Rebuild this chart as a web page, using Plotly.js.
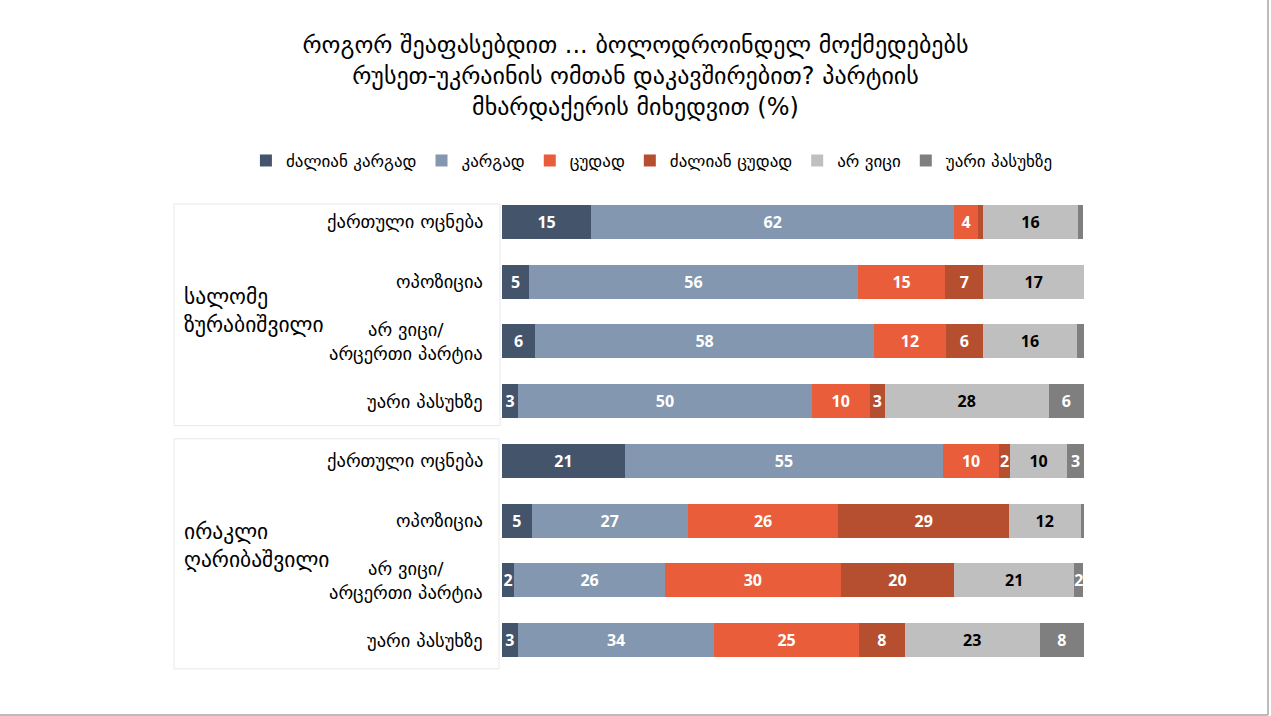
<!DOCTYPE html>
<html>
<head>
<meta charset="utf-8">
<script src="https://cdn.plot.ly/plotly-3.0.1.min.js"></script>
<style>html,body{margin:0;padding:0;background:#fff;}#chart{width:1271px;height:716px;}</style>
</head>
<body>
<div id="chart"></div>
<script>
// Row labels (top to bottom)
const rowLabels = [
  "ქართული ოცნება",
  "ოპოზიცია",
  "არ ვიცი/<br>არცერთი პარტია",
  "უარი პასუხზე",
  "ქართული ოცნება",
  "ოპოზიცია",
  "არ ვიცი/<br>არცერთი პარტია",
  "უარი პასუხზე"
];
const groupLabels = ["სალომე<br>ზურაბიშვილი", "ირაკლი<br>ღარიბაშვილი"];
const seriesNames = ["ძალიან კარგად", "კარგად", "ცუდად", "ძალიან ცუდად", "არ ვიცი", "უარი პასუხზე"];

// Series values (%), one entry per row
const veryGood = [15.3, 4.7, 5.7, 2.8, 21.1, 5.1, 2.1, 2.7];
const good     = [62.4, 56.4, 58.2, 50.4, 54.7, 26.8, 25.9, 33.8];
const bad      = [4.1, 15.1, 12.4, 10.0, 9.6, 25.9, 30.2, 24.8];
const veryBad  = [0.8, 6.5, 6.3, 2.6, 1.9, 29.3, 19.5, 7.9];
const dontKnow = [16.4, 17.3, 16.2, 28.1, 9.8, 12.3, 20.6, 23.2];
const refused  = [0.9, 0.0, 1.2, 6.1, 2.9, 0.6, 1.6, 7.6];

const seriesValues = [veryGood, good, bad, veryBad, dontKnow, refused];
const colors = ["#44546A", "#8497B0", "#E95D3A", "#B54F30", "#BFBFBF", "#7F7F7F"];
const textColors = ["#FFFFFF", "#FFFFFF", "#FFFFFF", "#FFFFFF", "#000000", "#FFFFFF"];

const rows = rowLabels.map((_, i) => i);
const GEO = "DejaVu Sans, sans-serif";

const traces = seriesValues.map((vals, k) => ({
  type: "bar",
  orientation: "h",
  name: seriesNames[k],
  x: vals,
  y: rows,
  marker: {color: colors[k], line: {width: 0}},
  text: vals.map(v => v >= 1.5 ? String(Math.round(v)) : ""),
  textposition: "inside",
  insidetextanchor: "middle",
  textangle: 0,
  constraintext: "none",
  textfont: {family: "Open Sans, sans-serif", size: 16, weight: "bold", color: textColors[k]},
  hoverinfo: "name+x"
}));

// Row label annotations (centered multiline, right anchored)
const annotations = rowLabels.map((t, i) => ({
  xref: "paper", yref: "y",
  x: -0.029, y: i,
  xanchor: "right", yanchor: "middle",
  align: "center",
  text: t,
  showarrow: false,
  font: {family: GEO, size: 18.5, color: "#000"}
}));
annotations.push({
  xref: "paper", yref: "y", x: -0.549, y: 1.48,
  xanchor: "left", yanchor: "middle", align: "left",
  text: groupLabels[0], showarrow: false,
  font: {family: GEO, size: 21.5, color: "#000"}
});
annotations.push({
  xref: "paper", yref: "y", x: -0.549, y: 5.41,
  xanchor: "left", yanchor: "middle", align: "left",
  text: groupLabels[1], showarrow: false,
  font: {family: GEO, size: 21.5, color: "#000"}
});

const shapes = [
  {type: "rect", xref: "paper", yref: "y", x0: -0.5636, x1: -0.0034, y0: -0.30, y1: 3.41,
   line: {color: "#E8E8E8", width: 1}, fillcolor: "rgba(0,0,0,0)", layer: "below"},
  {type: "rect", xref: "paper", yref: "y", x0: -0.5636, x1: -0.0052, y0: 3.63, y1: 7.48,
   line: {color: "#E8E8E8", width: 1}, fillcolor: "rgba(0,0,0,0)", layer: "below"},
  {type: "line", xref: "paper", yref: "paper", x0: 1.3162, x1: 1.3162, y0: 1.41, y1: -0.0941,
   line: {color: "#A6A6A6", width: 1.5}},
  {type: "line", xref: "paper", yref: "paper", x0: -0.87, x1: 1.3162, y0: -0.0941, y1: -0.0941,
   line: {color: "#A6A6A6", width: 1.5}}
];

const layout = {
  width: 1271, height: 716,
  paper_bgcolor: "#FFFFFF", plot_bgcolor: "#FFFFFF",
  barmode: "stack",
  bargap: 0.43,
  margin: {l: 502, r: 187, t: 192, b: 46, pad: 0},
  title: {
    text: "როგორ შეაფასებდით ... ბოლოდროინდელ მოქმედებებს<br>რუსეთ-უკრაინის ომთან დაკავშირებით? პარტიის<br>მხარდაქერის მიხედვით (%)",
    xref: "container", yref: "container", x: 0.5, y: 0.926,
    xanchor: "center", yanchor: "middle",
    font: {family: GEO, size: 24, color: "#000"}
  },
  xaxis: {range: [0, 100], showgrid: false, zeroline: false, showticklabels: false, showline: false, fixedrange: true},
  yaxis: {range: [7.5, -0.5], showgrid: false, zeroline: false, showticklabels: false, showline: false, fixedrange: true},
  showlegend: true,
  legend: {
    orientation: "h", xref: "paper", yref: "paper",
    x: -0.44, y: 1.065, xanchor: "left", yanchor: "middle",
    traceorder: "normal",
    font: {family: GEO, size: 17, color: "#000"},
    itemwidth: 30, tracegroupgap: 0, entrywidthmode: "pixels"
  },
  annotations: annotations,
  shapes: shapes,
  font: {family: GEO}
};

Plotly.newPlot("chart", traces, layout, {displayModeBar: false, staticPlot: true});
</script>
</body>
</html>
